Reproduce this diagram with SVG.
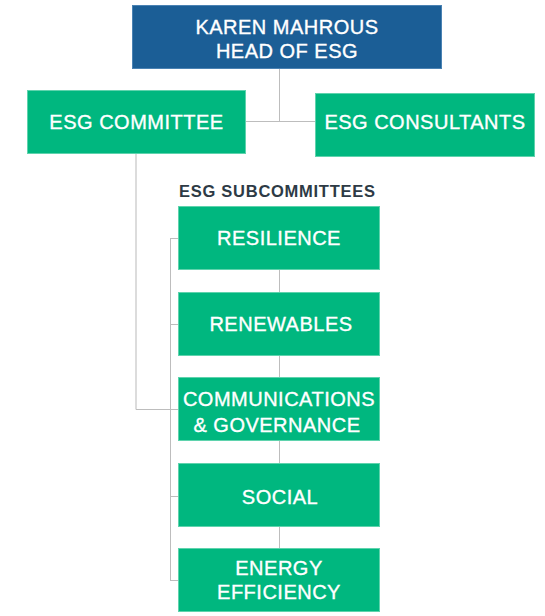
<svg xmlns="http://www.w3.org/2000/svg" width="545" height="616" viewBox="0 0 545 616">
<style>
.g{fill:#00b77f;stroke:#5fd3ad;stroke-width:1}
.b{fill:#1b5e96;stroke:#4a82b3;stroke-width:1}
.t{font-family:"Liberation Sans",Arial,sans-serif;font-size:20px;fill:#fff;stroke:#fff;stroke-width:0.35px;text-anchor:middle;letter-spacing:0.5px}
.c{fill:none;stroke:#bdbdbd;stroke-width:1}
.c2{fill:none;stroke:#dcdcdc;stroke-width:2}
.h{font-family:"Liberation Sans",Arial,sans-serif;font-size:16.5px;font-weight:bold;fill:#2d3a45}
</style>
<rect width="545" height="616" fill="#fff"/>
<g id="connectors">
<path class="c" d="M279.5 69V121.5M246 121.5H315"/>
<path class="c2" d="M136 154V409.5"/>
<path class="c" d="M136 409.5H178M170.5 238V580M170 238.5H178M170 324.5H178M170 496.5H178M170 580.5H178"/>
<path class="c" d="M279.5 270V292M279.5 356V377M279.5 441V463M279.5 527V548"/>
</g>
<g id="head">
<rect class="b" x="132.5" y="5.5" width="309" height="63"/>
<text class="t" x="287" y="34">KAREN MAHROUS</text>
<text class="t" x="287" y="58">HEAD OF ESG</text>
</g>
<g id="committee">
<rect class="g" x="27.5" y="90.5" width="218" height="63"/>
<text class="t" x="136.5" y="129">ESG COMMITTEE</text>
</g>
<g id="consultants">
<rect class="g" x="315.5" y="93.5" width="219" height="63"/>
<text class="t" x="425" y="129">ESG CONSULTANTS</text>
</g>
<text class="h" x="179" y="197" textLength="196" lengthAdjust="spacing">ESG SUBCOMMITTEES</text>
<g id="resilience">
<rect class="g" x="178.5" y="206.5" width="201" height="63"/>
<text class="t" x="279" y="245">RESILIENCE</text>
</g>
<g id="renewables">
<rect class="g" x="178.5" y="292.5" width="201" height="63"/>
<text class="t" x="281" y="331">RENEWABLES</text>
</g>
<g id="communications">
<rect class="g" x="178.5" y="377.5" width="201" height="63"/>
<text class="t" x="279" y="406">COMMUNICATIONS</text>
<text class="t" x="277" y="432">&amp; GOVERNANCE</text>
</g>
<g id="social">
<rect class="g" x="178.5" y="463.5" width="201" height="63"/>
<text class="t" x="280" y="504">SOCIAL</text>
</g>
<g id="energy">
<rect class="g" x="178.5" y="548.5" width="201" height="63"/>
<text class="t" x="279" y="575">ENERGY</text>
<text class="t" x="279" y="599">EFFICIENCY</text>
</g>
</svg>
